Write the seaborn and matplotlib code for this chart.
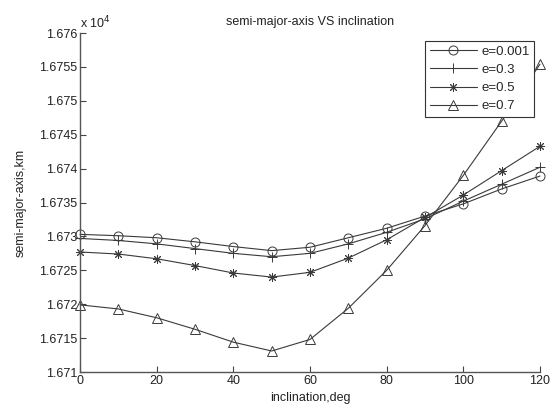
import matplotlib
matplotlib.use("Agg")
import matplotlib.pyplot as plt
import seaborn as sns
import pandas as pd

# ---- data (semi-major axis in units of 1e4 km) ----
inclination = [0, 10, 20, 30, 40, 50, 60, 70, 80, 90, 100, 110, 120]
a_e0001 = [1.67303, 1.67301, 1.67298, 1.67292, 1.67285, 1.67279, 1.67284,
           1.67298, 1.67312, 1.67330, 1.67348, 1.67370, 1.67389]
a_e03 = [1.67297, 1.67294, 1.67289, 1.67282, 1.67275, 1.67270, 1.67275,
         1.67289, 1.67306, 1.67326, 1.67352, 1.67377, 1.67402]
a_e05 = [1.67277, 1.67274, 1.67267, 1.67257, 1.67246, 1.67240, 1.67247,
         1.67268, 1.67295, 1.67328, 1.67361, 1.67397, 1.67433]
a_e07 = [1.67199, 1.67193, 1.67180, 1.67163, 1.67144, 1.67131, 1.67148,
         1.67194, 1.67250, 1.67316, 1.67390, 1.67470, 1.67554]
series_labels = ["e=0.001", "e=0.3", "e=0.5", "e=0.7"]
x_ticks = [0, 20, 40, 60, 80, 100, 120]
y_ticks = [1.671, 1.6715, 1.672, 1.6725, 1.673, 1.6735, 1.674, 1.6745,
           1.675, 1.6755, 1.676]
y_tick_labels = ["1.671", "1.6715", "1.672", "1.6725", "1.673", "1.6735",
                 "1.674", "1.6745", "1.675", "1.6755", "1.676"]

sns.set_theme(style="ticks")
plt.rcParams["font.family"] = ["Liberation Sans", "DejaVu Sans"]

fig = plt.figure(figsize=(5.51, 4.09), dpi=100)
ax = fig.add_axes([80 / 551, 1 - 372 / 409, (540 - 80) / 551, (372 - 33) / 409])

markers = ["o", "+", (8, 2, 0), "^"]
sizes = [6.5, 7, 6.5, 7.5]
series = [a_e0001, a_e03, a_e05, a_e07]
line_col = "#3a3a3a"
for vals, lab, mk, ms in zip(series, series_labels, markers, sizes):
    df = pd.DataFrame({"inclination": inclination, "a": vals})
    sns.lineplot(data=df, x="inclination", y="a", ax=ax, label=lab,
                 color=line_col, linewidth=0.8, marker=mk, markersize=ms,
                 markerfacecolor="none", markeredgecolor=line_col,
                 markeredgewidth=0.7, clip_on=False)

ax.set_xlim(0, 120)
ax.set_ylim(1.671, 1.676)
ax.set_xticks(x_ticks)
ax.set_xticklabels([str(t) for t in x_ticks])
ax.set_yticks(y_ticks)
ax.set_yticklabels(y_tick_labels)
ax.tick_params(direction="in", length=4, width=0.8, colors="#444444",
               labelcolor="#222222", labelsize=9, pad=2)
for s in ["top", "right"]:
    ax.spines[s].set_visible(False)
for s in ["left", "bottom"]:
    ax.spines[s].set_color("#555555")
    ax.spines[s].set_linewidth(1.0)

ax.set_xlabel("inclination,deg", fontsize=9, color="#222222", labelpad=4)
ax.set_ylabel("semi-major-axis,km", fontsize=9, color="#222222", labelpad=9)
ax.set_title("semi-major-axis VS inclination", fontsize=9, color="#222222", pad=6)

fig.text(80 / 551, 1 - 28 / 409, r"x 10$^{4}$", fontsize=9, color="#222222",
         ha="left", va="baseline")

leg = ax.legend(loc="upper right", bbox_to_anchor=(534 / 551, 1 - 41 / 409),
                bbox_transform=fig.transFigure, borderaxespad=0,
                fancybox=False, framealpha=1, edgecolor="#333333",
                fontsize=9.5, handlelength=3.6, handletextpad=0.3,
                labelspacing=0.45, borderpad=0.35)
leg.get_frame().set_linewidth(0.8)
leg.set_zorder(5)

fig.savefig("out.png", dpi=100, facecolor="white")
